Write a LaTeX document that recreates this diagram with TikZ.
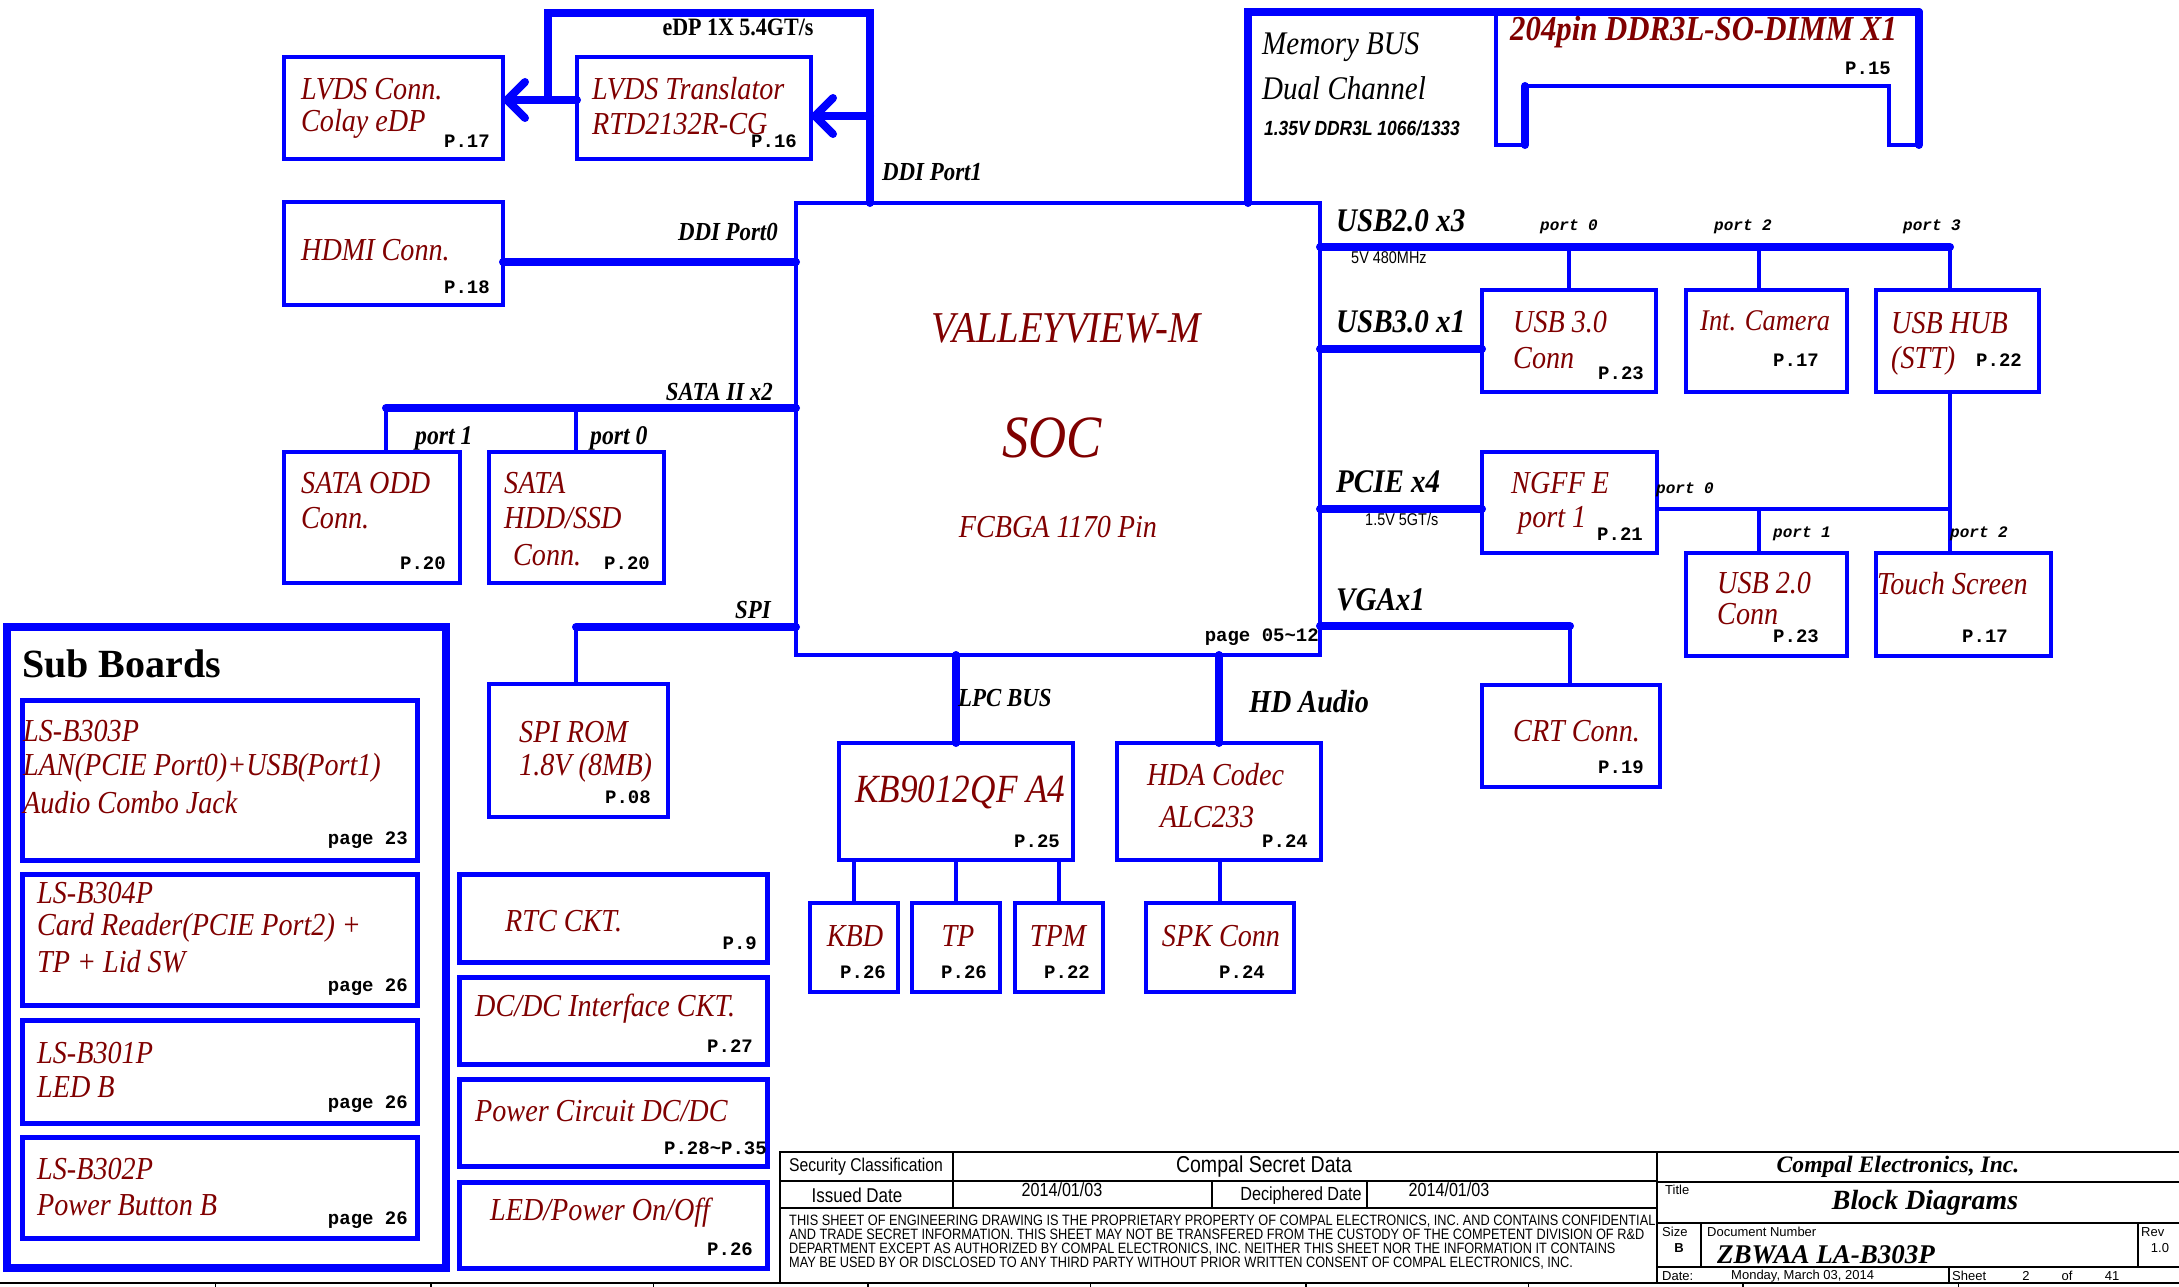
\documentclass[tikz,border=0pt]{standalone}
\usepackage{fontspec}
\setmainfont{Liberation Serif}
\newfontfamily\labf[FakeStretch=0.88]{Liberation Serif}
\newfontfamily\monof{Liberation Mono}
\newfontfamily\sansf{Liberation Sans}
\newfontfamily\sansn[FakeStretch=0.85]{Liberation Sans}
\usetikzlibrary{arrows.meta}
\definecolor{bl}{RGB}{0,0,255}
\definecolor{dr}{RGB}{128,0,0}
\newcommand\fsz[1]{\fontsize{#1}{#1}\selectfont}
\tikzset{
 box/.style={draw=bl, line width=4.5pt, inner sep=0pt, outer sep=0pt, anchor=north west},
 sbox/.style={box, line width=5pt},
 bus/.style={draw=bl, line width=8pt, line cap=round},
 wire/.style={draw=bl, line width=4pt},
 arr/.style={bus, -{Straight Barb[length=18pt,width=36pt,round]}},
 rl/.style={text=dr, font=\labf\itshape\fsz{32}, inner sep=0pt, anchor=west},
 bi/.style={font=\labf\bfseries\itshape\fsz{26}, inner sep=0pt},
 sl/.style={font=\labf\bfseries\itshape\fsz{33}, inner sep=0pt, anchor=west},
 pg/.style={font=\monof\bfseries\fsz{19}, inner sep=0pt, anchor=east},
 prt/.style={font=\monof\bfseries\itshape\fsz{16}, inner sep=0pt},
 tbt/.style={inner sep=0pt},
 tl/.style={draw=black, line width=1.5pt},
}
\begin{document}
\begin{tikzpicture}[x=1pt,y=-1pt]
\fill[white] (0,0) rectangle (2179,1287);
\useasboundingbox (0,0) rectangle (2179,1287);

% ---------- boxes ----------
\node[box, minimum width=219pt, minimum height=102pt] (lvdsc) at (284,57) {};
\node[box, minimum width=234pt, minimum height=102pt] (lvdst) at (577,57) {};
\node[box, minimum width=219pt, minimum height=103pt] (hdmi) at (284,202) {};
\node[box, minimum width=524pt, minimum height=452pt] (soc) at (796,203) {};
\node[box, minimum width=176pt, minimum height=131pt] (odd) at (284,452) {};
\node[box, minimum width=175pt, minimum height=131pt] (hdd) at (489,452) {};
\node[box, minimum width=179pt, minimum height=133pt] (spirom) at (489,684) {};
\node[box, minimum width=174pt, minimum height=102pt] (usb3) at (1482,290) {};
\node[box, minimum width=161pt, minimum height=102pt] (cam) at (1686,290) {};
\node[box, minimum width=163pt, minimum height=102pt] (hub) at (1876,290) {};
\node[box, minimum width=175pt, minimum height=101pt] (ngff) at (1482,452) {};
\node[box, minimum width=161pt, minimum height=103pt] (usb20) at (1686,553) {};
\node[box, minimum width=175pt, minimum height=103pt] (ts) at (1876,553) {};
\node[box, minimum width=178pt, minimum height=102pt] (crt) at (1482,685) {};
\node[box, minimum width=234pt, minimum height=117pt] (kb) at (839,743) {};
\node[box, minimum width=204pt, minimum height=117pt] (hda) at (1117,743) {};
\node[box, minimum width=88pt, minimum height=89pt] (kbd) at (810,903) {};
\node[box, minimum width=88pt, minimum height=89pt] (tp) at (912,903) {};
\node[box, minimum width=88pt, minimum height=89pt] (tpm) at (1015,903) {};
\node[box, minimum width=148pt, minimum height=89pt] (spk) at (1146,903) {};
\node[sbox, minimum width=308pt, minimum height=88pt] (rtc) at (459,874) {};
\node[sbox, minimum width=308pt, minimum height=87pt] (dcif) at (459,977) {};
\node[sbox, minimum width=308pt, minimum height=87pt] (pwr) at (459,1079) {};
\node[sbox, minimum width=308pt, minimum height=86pt] (ledb) at (459,1182) {};
\node[box, line width=8pt, minimum width=439pt, minimum height=641pt] (sub) at (7,627) {};
\node[sbox, minimum width=395pt, minimum height=160pt] (sb1) at (22,700) {};
\node[sbox, minimum width=395pt, minimum height=131pt] (sb2) at (22,874) {};
\node[sbox, minimum width=395pt, minimum height=103pt] (sb3) at (22,1020) {};
\node[sbox, minimum width=395pt, minimum height=101pt] (sb4) at (22,1137) {};

% ---------- helper coordinates ----------
\coordinate (edpL) at (548,13);
\coordinate (edpR) at (870,13);
\coordinate (yLv) at (0,100);
\coordinate (yTr) at (0,116);
\coordinate (yHd) at (0,262);
\coordinate (ySa) at (0,408);
\coordinate (sa1) at (386,408);
\coordinate (sa0) at (576,408);
\coordinate (ySp) at (0,627);
\coordinate (spj) at (576,627);
\coordinate (mem) at (1248,12);
\coordinate (dimR) at (1919,12);
\coordinate (yU2) at (0,247);
\coordinate (u2e) at (1950,247);
\coordinate (camx) at (1759,0);
\coordinate (yU3) at (0,349);
\coordinate (yPc) at (0,509);
\coordinate (hubj) at (1950,509);
\coordinate (u20j) at (1759,509);
\coordinate (yVg) at (0,626);
\coordinate (vgj) at (1570,626);
\coordinate (lpc) at (956,0);
\coordinate (hdax) at (1219,0);

% ---------- connectors ----------
\draw[bus] (soc.north -| edpR) -- (edpR) -- (edpL) -- (edpL |- yLv);
\draw[arr] (lvdst.west |- yLv) -- (lvdsc.east |- yLv);
\draw[arr] (edpR |- yTr) -- (lvdst.east |- yTr);
\draw[bus] (hdmi.east |- yHd) -- (soc.west |- yHd);
\draw[bus] (soc.west |- ySa) -- (sa1);
\draw[wire] (sa1) -- (odd.north -| sa1);
\draw[wire] (sa0) -- (hdd.north -| sa0);
\draw[bus] (soc.west |- ySp) -- (spj);
\draw[wire] (spj) -- (spirom.north -| spj);
\draw[bus] (soc.south -| lpc) -- (kb.north -| lpc);
\draw[bus] (soc.south -| hdax) -- (hda.north -| hdax);
\draw[wire] (kbd.north |- kb.south) -- (kbd.north);
\draw[wire] (tp.north |- kb.south) -- (tp.north);
\draw[wire] (tpm.north |- kb.south) -- (tpm.north);
\draw[wire] (spk.north |- hda.south) -- (spk.north);
\draw[bus] (soc.north -| mem) -- (mem) -- (dimR);
\draw[wire] (1496,12) -- (1496,145) -- (1525,145);
\draw[bus] (1525,145) -- (1525,86);
\draw[wire] (1525,86) -- (1889,86) -- (1889,145) -- (1919,145);
\draw[bus] (1919,145) -- (dimR);
\draw[bus] (soc.east |- yU2) -- (u2e);
\draw[wire] (usb3.north |- yU2) -- (usb3.north);
\draw[wire] (camx |- yU2) -- (cam.north -| camx);
\draw[wire] (u2e) -- (hub.north -| u2e);
\draw[bus] (soc.east |- yU3) -- (usb3.west |- yU3);
\draw[bus] (soc.east |- yPc) -- (ngff.west |- yPc);
\draw[wire] (ngff.east |- yPc) -- (hubj);
\draw[wire] (hub.south -| hubj) -- (ts.north -| hubj);
\draw[wire] (u20j) -- (usb20.north -| u20j);
\draw[bus] (soc.east |- yVg) -- (vgj);
\draw[wire] (vgj) -- (crt.north -| vgj);

% ---------- bus labels ----------
\node[font=\labf\bfseries\fsz{25}, inner sep=0pt] (edpt) at (738,27) {eDP 1X 5.4GT/s};
\node[bi, anchor=west] (ddi1) at (882,172) {DDI Port1};
\node[bi, anchor=east] (ddi0) at (778,232) {DDI Port0};
\node[bi, anchor=east] (satal) at (773,392) {SATA II x2};
\node[bi, anchor=west, font=\labf\bfseries\itshape\fsz{27}] (sp1) at (415,438) {port 1};
\node[bi, anchor=west, font=\labf\bfseries\itshape\fsz{27}] (sp0) at (590,438) {port 0};
\node[bi, anchor=east] (spil) at (771,610) {SPI};
\node[bi, anchor=west] (lpcl) at (958,698) {LPC BUS};
\node[bi, anchor=west, font=\labf\bfseries\itshape\fsz{32}] (hdal) at (1249,702) {HD Audio};
\node[font=\labf\itshape\fsz{33}, inner sep=0pt, anchor=west] (memb) at (1262,47) {Memory BUS};
\node[font=\labf\itshape\fsz{33}, inner sep=0pt, anchor=west] (memd) at (1262,88) {Dual Channel};
\node[font=\sansn\bfseries\itshape\fsz{20.5}, inner sep=0pt, anchor=west] (memv) at (1264,128) {1.35V DDR3L 1066/1333};
\node[sl] (u2l) at (1336,221) {USB2.0 x3};
\node[font=\sansn\fsz{17}, inner sep=0pt, anchor=west] (u2s) at (1351,258) {5V 480MHz};
\node[prt] (up0) at (1569,227) {port 0};
\node[prt] (up2) at (1743,227) {port 2};
\node[prt] (up3) at (1932,227) {port 3};
\node[sl] (u3l) at (1336,322) {USB3.0 x1};
\node[sl] (pcl) at (1336,482) {PCIE x4};
\node[font=\sansn\fsz{17}, inner sep=0pt, anchor=west] (pcs) at (1365,519) {1.5V 5GT/s};
\node[prt, anchor=west] (hp0) at (1656,490) {port 0};
\node[prt, anchor=west] (hp1) at (1773,534) {port 1};
\node[prt, anchor=west] (hp2) at (1950,534) {port 2};
\node[sl] (vgl) at (1336,600) {VGAx1};

% ---------- box texts ----------
\node[rl] (a1) at (301,89) {LVDS Conn.};
\node[rl] (a2) at (301,124) {Colay eDP};
\node[pg] (a3) at (490,141) {P.17};
\node[rl] (b1) at (592,89) {LVDS Translator};
\node[rl] (b2) at (592,124) {RTD2132R-CG};
\node[pg] (b3) at (797,141) {P.16};
\node[rl] (c1) at (301,250) {HDMI Conn.};
\node[pg] (c2) at (490,287) {P.18};
\node[rl, anchor=center, font=\labf\itshape\fsz{44}] (s1) at (1066,328) {VALLEYVIEW-M};
\node[rl, anchor=center, font=\labf\itshape\fsz{60}] (s2) at (1052,438) {SOC};
\node[rl, anchor=center] (s3) at (1058,527) {FCBGA 1170 Pin};
\node[pg] (s4) at (1319,637) {page 05\textasciitilde12};
\node[rl, font=\labf\bfseries\itshape\fsz{35}] (m1) at (1510,32) {204pin DDR3L-SO-DIMM X1};
\node[pg] (m2) at (1891,68) {P.15};
\node[rl] (d1) at (301,483) {SATA ODD};
\node[rl] (d2) at (301,518) {Conn.};
\node[pg] (d3) at (446,563) {P.20};
\node[rl] (e1) at (504,483) {SATA};
\node[rl] (e2) at (504,518) {HDD/SSD};
\node[rl] (e3) at (513,555) {Conn.};
\node[pg] (e4) at (650,563) {P.20};
\node[rl] (f1) at (519,732) {SPI ROM};
\node[rl] (f2) at (519,768) {1.8V (8MB)};
\node[pg] (f3) at (651,797) {P.08};
\node[rl] (g1) at (1513,322) {USB 3.0};
\node[rl] (g2) at (1513,358) {Conn};
\node[pg] (g3) at (1644,373) {P.23};
\node[rl, font=\labf\itshape\fsz{30}] (h1) at (1700,321) {Int. Camera};
\node[pg] (h2) at (1819,360) {P.17};
\node[rl] (i1) at (1891,323) {USB HUB};
\node[rl] (i2) at (1891,361) {(STT)};
\node[pg] (i3) at (2022,360) {P.22};
\node[rl] (j1) at (1511,483) {NGFF E};
\node[rl] (j2) at (1518,520) {port 1};
\node[pg] (j3) at (1643,534) {P.21};
\node[rl] (k1) at (1717,583) {USB 2.0};
\node[rl] (k2) at (1717,614) {Conn};
\node[pg] (k3) at (1819,636) {P.23};
\node[rl] (l1) at (1877,584) {Touch Screen};
\node[pg] (l2) at (2008,636) {P.17};
\node[rl] (n1) at (1513,731) {CRT Conn.};
\node[pg] (n2) at (1644,767) {P.19};
\node[rl, font=\labf\itshape\fsz{40}] (o1) at (855,792) {KB9012QF A4};
\node[pg] (o2) at (1060,841) {P.25};
\node[rl] (q1) at (1147,775) {HDA Codec};
\node[rl] (q2) at (1160,817) {ALC233};
\node[pg] (q3) at (1308,841) {P.24};
\node[rl, anchor=center] (r1) at (855,936) {KBD};
\node[pg] (r2) at (886,972) {P.26};
\node[rl, anchor=center] (r3) at (958,936) {TP};
\node[pg] (r4) at (987,972) {P.26};
\node[rl, anchor=center] (r5) at (1058,936) {TPM};
\node[pg] (r6) at (1090,972) {P.22};
\node[rl, anchor=center] (r7) at (1221,936) {SPK Conn};
\node[pg] (r8) at (1265,972) {P.24};
\node[rl] (w1) at (505,921) {RTC CKT.};
\node[pg] (w2) at (757,943) {P.9};
\node[rl] (w3) at (475,1009) {DC/DC Interface CKT.};
\node[pg] (w4) at (753,1046) {P.27};
\node[rl] (w5) at (475,1111) {Power Circuit DC/DC};
\node[pg] (w6) at (767,1148) {P.28\textasciitilde P.35};
\node[rl] (w7) at (490,1213) {LED/Power On/Off};
\node[pg] (w8) at (753,1249) {P.26};

% ---------- sub boards ----------
\node[font=\bfseries\fsz{40}, inner sep=0pt, anchor=west] (subt) at (22,664) {Sub Boards};
\node[rl] (x1) at (23,731) {LS-B303P};
\node[rl] (x2) at (23,768) {LAN(PCIE Port0)+USB(Port1)};
\node[rl] (x3) at (23,803) {Audio Combo Jack};
\node[pg] (x4) at (408,840) {page 23};
\node[rl] (y1) at (37,893) {LS-B304P};
\node[rl] (y2) at (37,928) {Card Reader(PCIE Port2) +};
\node[rl] (y3) at (37,962) {TP + Lid SW};
\node[pg] (y4) at (408,987) {page 26};
\node[rl] (z1) at (37,1053) {LS-B301P};
\node[rl] (z2) at (37,1087) {LED B};
\node[pg] (z3) at (408,1104) {page 26};
\node[rl] (v1) at (37,1169) {LS-B302P};
\node[rl] (v2) at (37,1205) {Power Button B};
\node[pg] (v3) at (408,1220) {page 26};

% ---------- title block ----------
\draw[tl] (780,1282) -- (780,1152) -- (2179,1152);
\draw[tl] (780,1181) -- (1657,1181);
\draw[tl] (780,1208) -- (1657,1208);
\draw[tl] (953,1152) -- (953,1208);
\draw[tl] (1212,1181) -- (1212,1208);
\draw[tl] (1367,1181) -- (1367,1208);
\draw[tl] (1657,1152) -- (1657,1283);
\draw[tl] (1657,1182) -- (2179,1182);
\draw[tl] (1657,1223) -- (2179,1223);
\draw[tl] (1657,1267) -- (2179,1267);
\draw[tl] (1701,1223) -- (1701,1267);
\draw[tl] (2138,1223) -- (2138,1267);
\draw[tl] (1949,1267) -- (1949,1283);
\draw[draw=black, line width=2pt] (0,1283) -- (2179,1283);
\foreach \tx in {431,868,1306,1743} \draw[black, line width=1.5pt] (\tx,1283) -- (\tx,1287);
\foreach \tx in {215,653,1090,1528,1958} \draw[black, line width=1pt] (\tx,1284) -- (\tx,1287);

\node[tbt, font=\sansn\fsz{18.5}] (tb1) at (866,1167) {Security Classification};
\node[tbt, font=\sansn\fsz{23}] (tb2) at (1264,1167) {Compal Secret Data};
\node[tbt, font=\sansn\fsz{20}] (tb3) at (857,1195) {Issued Date};
\node[tbt, font=\sansn\fsz{19}] (tb4) at (1062,1190) {2014/01/03};
\node[tbt, font=\sansn\fsz{19}] (tb5) at (1301,1196) {Deciphered Date};
\node[tbt, font=\sansn\fsz{19}] (tb6) at (1449,1190) {2014/01/03};
\node[tbt, font=\sansn\fontsize{15}{13.8}\selectfont, align=left, anchor=north west] (tb7) at (789,1215)
 {THIS SHEET OF ENGINEERING DRAWING IS THE PROPRIETARY PROPERTY OF COMPAL ELECTRONICS, INC. AND CONTAINS CONFIDENTIAL\\
  AND TRADE SECRET INFORMATION. THIS SHEET MAY NOT BE TRANSFERED FROM THE CUSTODY OF THE COMPETENT DIVISION OF R\&D\\
  DEPARTMENT EXCEPT AS AUTHORIZED BY COMPAL ELECTRONICS, INC. NEITHER THIS SHEET NOR THE INFORMATION IT CONTAINS\\
  MAY BE USED BY OR DISCLOSED TO ANY THIRD PARTY WITHOUT PRIOR WRITTEN CONSENT OF COMPAL ELECTRONICS, INC.};
\node[tbt, font=\bfseries\itshape\fsz{23.6}] (tc1) at (1898,1167) {Compal Electronics, Inc.};
\node[tbt, font=\sansf\fsz{13}, anchor=west] (tc2) at (1665,1190) {Title};
\node[tbt, font=\bfseries\itshape\fsz{27.8}] (tc3) at (1925,1203) {Block Diagrams};
\node[tbt, font=\sansf\fsz{13}, anchor=west] (tc4) at (1662,1232) {Size};
\node[tbt, font=\sansf\bfseries\fsz{13}] (tc5) at (1679,1248) {B};
\node[tbt, font=\sansf\fsz{13}, anchor=west] (tc6) at (1707,1232) {Document Number};
\node[tbt, font=\bfseries\itshape\fsz{27}, anchor=west] (tc7) at (1717,1255) {ZBWAA LA-B303P};
\node[tbt, font=\sansf\fsz{13}, anchor=west] (tc8) at (2141,1232) {Rev};
\node[tbt, font=\sansf\fsz{13}] (tc9) at (2160,1248) {1.0};
\node[tbt, font=\sansf\fsz{13}, anchor=west] (td1) at (1662,1276) {Date:};
\node[tbt, font=\sansf\fsz{13}, anchor=west] (td2) at (1731,1276) {Monday, March 03, 2014};
\node[tbt, font=\sansf\fsz{13}, anchor=west] (td3) at (1952,1276) {Sheet};
\node[tbt, font=\sansf\fsz{13}] (td4) at (2026,1276) {2};
\node[tbt, font=\sansf\fsz{13}] (td5) at (2067,1276) {of};
\node[tbt, font=\sansf\fsz{13}] (td6) at (2112,1276) {41};
\end{tikzpicture}
\end{document}
